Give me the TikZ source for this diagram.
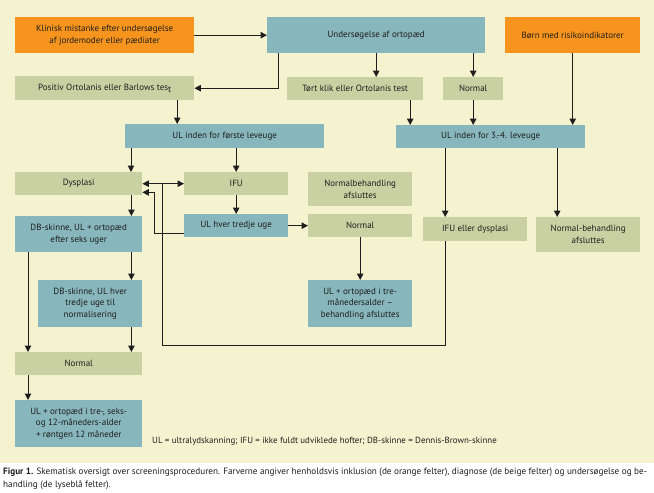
\documentclass[tikz,border=0pt]{standalone}
\usepackage{fontspec}
\setmainfont{PT Sans}
\usetikzlibrary{arrows.meta}
\definecolor{cream}{HTML}{F4F2CF}
\definecolor{orng}{HTML}{F7941E}
\definecolor{blu}{HTML}{87B6BC}
\definecolor{sage}{HTML}{C9D0A2}
\definecolor{ink}{HTML}{1E1E1E}
\tikzset{
  bx/.style 2 args={anchor=north west, minimum width=#1pt, minimum height=#2pt, inner sep=1pt, align=center, text=ink,
     font=\fontsize{9}{11.8}\selectfont},
  ob/.style={fill=orng},
  bb/.style={fill=blu},
  sb/.style={fill=sage},
  arr/.style={draw=ink, line width=1pt, -{Triangle[length=6.5pt,width=6.5pt]}},
  arr2/.style={draw=ink, line width=1pt, {Triangle[length=6.5pt,width=6.5pt]}-{Triangle[length=6.5pt,width=6.5pt]}},
  ln/.style={draw=ink, line width=1pt},
}
\begin{document}
\begin{tikzpicture}[x=1pt,y=-1pt]
\useasboundingbox (0,0) rectangle (654,493);
\fill[white] (0,0) rectangle (654,493);
\fill[cream] (0,0) rectangle (654,463);
% nodes
\node[bx={179}{36},ob] (kl) at (15,17) {Klinisk mistanke efter undersøgelse\\af jordemoder eller pædiater};
\node[bx={218}{36},bb] (us) at (267,17) {Undersøgelse af ortopæd};
\node[bx={135}{36},ob] (bo) at (505,17) {Børn med risikoindikatorer};
\node[bx={179}{24},sb] (pos) at (15,76) {Positiv Ortolanis eller Barlows tes\raisebox{-1.8pt}{t}};
\node[bx={136}{23},sb] (tk) at (287,77) {Tørt klik eller Ortolanis test};
\node[bx={60}{23},sb] (n1) at (443,77) {Normal};
\node[bx={199}{24},bb] (ul1) at (125,124) {UL inden for første leveuge};
\node[bx={189}{23},bb] (ul3) at (396,125) {UL inden for 3.-4. leveuge};
\node[bx={127}{23},sb] (dys) at (15,172) {Dysplasi};
\node[bx={104}{23},sb] (ifu) at (184,172) {IFU};
\node[bx={104}{34},sb] (nba) at (308,172) {Normalbehandling\\afsluttes};
\node[bx={127}{36},bb] (db1) at (15,216) {DB-skinne, UL + ortopæd\\efter seks uger};
\node[bx={104}{23},bb] (ult) at (184,214) {UL hver tredje uge};
\node[bx={104}{23},sb] (n2) at (308,214) {Normal};
\node[bx={104}{24},sb] (ifd) at (423,217) {IFU eller dysplasi};
\node[bx={104}{35},sb] (nb2) at (536,217) {Normal-behandling\\afsluttes};
\node[bx={104}{47},bb] (db2) at (38,280) {DB-skinne, UL hver\\tredje uge til\\normalisering};
\node[bx={104}{47},bb] (ult3) at (308,280) {UL + ortopæd i tre-\\månedersalder –\\behandling afsluttes};
\node[bx={127}{23},sb] (n3) at (15,352) {Normal};
\node[bx={127}{47},bb] (ulf) at (15,400) {UL + ortopæd i tre-, seks-\\og 12-måneders-alder\\+ røntgen 12 måneder};
\node[anchor=west, inner sep=0pt, text=ink, font=\fontsize{8.9}{10}\selectfont] (leg) at (152,441)
  {UL = ultralydskanning; IFU = ikke fuldt udviklede hofter; DB-skinne = Dennis-Brown-skinne};
\node[anchor=north west, inner sep=0pt, align=left, text=ink, font=\fontsize{9.2}{12.5}\selectfont] (cap) at (3,468)
  {\textbf{Figur 1.} Skematisk oversigt over screeningsproceduren. Farverne angiver henholdsvis inklusion (de orange felter), diagnose (de beige felter) og undersøgelse og be-\\handling (de lyseblå felter).};
\coordinate (lp) at (162,345);
% connectors
\draw[arr] (kl.east) -- (us.west);
\draw[arr] ([xshift=11pt]us.south west) |- (pos.east);
\draw[arr] (us.south) -- (us.south |- tk.north);
\draw[arr] (us.south -| n1.north) -- (n1.north);
\draw[arr] (bo.south) -- (bo.south |- ul3.north);
\draw[arr] ([xshift=72.5pt]pos.south) -- ([xshift=72.5pt]pos.south |- ul1.north);
\draw[arr] ([xshift=55pt]tk.south) -- ([xshift=55pt]tk.south |- ul3.north);
\draw[arr] (n1.south) -- (n1.south |- ul3.north);
\draw[arr] ([xshift=6pt]ul1.south west) -- ([xshift=6pt]ul1.south west |- dys.north);
\draw[arr] (ifu.north |- ul1.south) -- (ifu.north);
\draw[arr2] (dys.east) -- (ifu.west);
\draw[arr] (ifu.south) -- (ult.north);
\draw[arr] ([yshift=4pt]ult.south west) -- ++(-30pt,0) |- ([yshift=3pt]dys.south east);
\draw[ln] ([xshift=-30pt]ifd.south) |- (lp) -- (lp |- dys.east);
\draw[arr] ([xshift=-30pt]ifd.north |- ul3.south) -- ([xshift=-30pt]ifd.north);
\draw[arr] ([xshift=-31pt]nb2.north |- ul3.south) -- ([xshift=-31pt]nb2.north);
\draw[arr] (ult.east) -- (n2.west);
\draw[arr] (n2.south) -- (ult3.north);
\draw[arr] ([xshift=-11pt]dys.south east) -- ([xshift=-11pt]db1.north east);
\draw[arr] ([xshift=-11pt]db1.south east) -- ([xshift=-11pt]db2.north east);
\draw[arr] ([xshift=13pt]db1.south west) -- ([xshift=13pt]n3.north west);
\draw[arr] ([xshift=-11pt]db2.south east) -- ([xshift=-11pt]n3.north east);
\draw[arr] ([xshift=13pt]n3.south west) -- ([xshift=13pt]ulf.north west);
\end{tikzpicture}
\end{document}
